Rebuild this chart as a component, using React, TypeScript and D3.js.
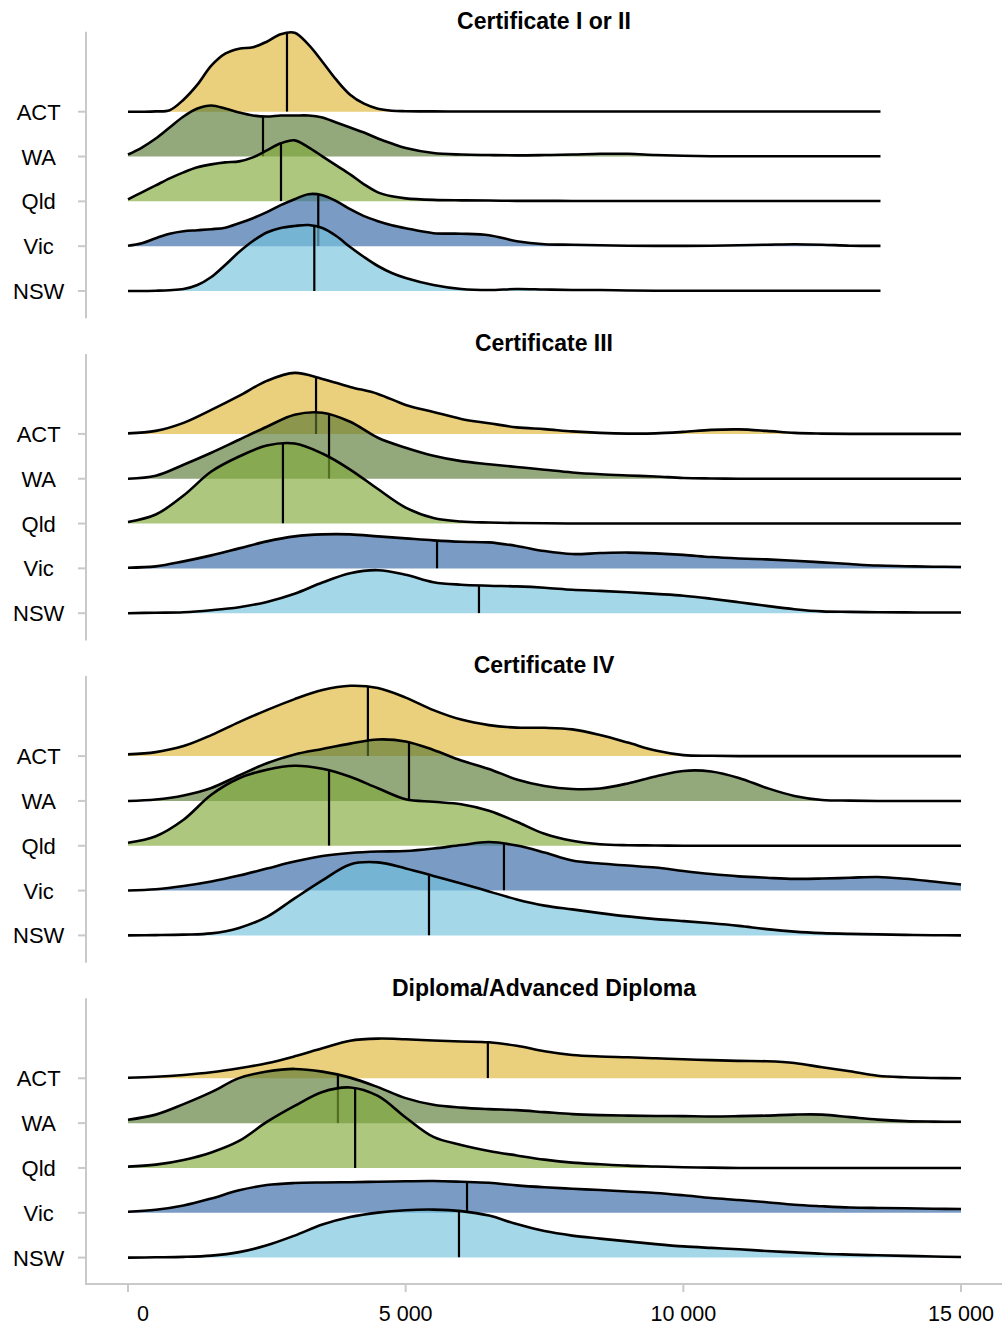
import React, { useEffect, useRef } from 'react';
import * as d3 from 'd3';

const WIDTH = 1002;
const HEIGHT = 1326;

const states = ['ACT', 'WA', 'Qld', 'Vic', 'NSW'];
const stateColors = ['#DFB536', '#597934', '#81A93A', '#3267A4', '#73C2DC'];
const panelTitles = ['Certificate I or II', 'Certificate III', 'Certificate IV', 'Diploma/Advanced Diploma'];
const xTickValues = [0, 5000, 10000, 15000];

// income sample points (x values) for each density
const gridCert12 = [0, 250, 500, 750, 1000, 1250, 1500, 1750, 2000, 2250, 2500, 2750, 3000, 3250, 3500, 3750, 4000, 4250, 4500, 4750, 5000, 5500, 6000, 6500, 7000, 7500, 8000, 8500, 9000, 9500, 10000, 10500, 11000, 11500, 12000, 12500, 13000, 13550];
const gridFull = [0, 500, 1000, 1500, 2000, 2500, 3000, 3500, 4000, 4500, 5000, 5500, 6000, 6500, 7000, 7500, 8000, 8500, 9000, 9500, 10000, 10500, 11000, 11500, 12000, 12500, 13000, 13500, 14000, 14500, 15000];

// Certificate I or II densities (relative heights)
const cert12ACT = [0, 0, 0.3, 1.5, 12, 27, 46, 58, 63, 64.5, 70, 77.5, 79, 67, 50, 32, 17, 8, 3, 1, 0.5, 0.3, 0.2, 0.2, 0.2, 0.2, 0.2, 0.2, 0.2, 0.2, 0.2, 0.2, 0.2, 0.2, 0.2, 0.2, 0.2, 0.2];
const cert12WA = [2, 9, 18, 29, 40, 48, 51, 48, 44, 41, 40, 41, 41, 41, 39, 34, 29, 24, 18, 13, 8.5, 3.5, 2, 1.5, 1.2, 1.5, 2, 2.7, 2.7, 1.5, 0.7, 0.3, 0.3, 0.3, 0.3, 0.3, 0.3, 0.3];
const cert12Qld = [2, 9, 16, 23, 29, 34, 37, 39, 40, 44, 51, 58, 61, 54, 45, 36, 27, 17, 9, 5, 3, 1.5, 1, 0.8, 0.5, 0.5, 0.4, 0.4, 0.4, 0.4, 0.4, 0.4, 0.4, 0.4, 0.4, 0.4, 0.4, 0.4];
const cert12Vic = [0.5, 3, 8, 12.5, 15, 16, 17, 18.5, 23, 28, 34, 41, 47, 52, 51, 45, 37, 30, 25, 21, 18, 13, 12.5, 11, 5, 2, 1.5, 1, 0.5, 0.3, 0.3, 0.5, 1, 1.5, 2, 1.5, 0.5, 0.3];
const cert12NSW = [0, 0, 0.3, 0.8, 2, 6, 14, 26, 39, 50, 58.5, 63, 65, 66, 63, 55, 44, 34, 25, 18, 13, 6, 2, 1, 2, 1.5, 1, 1, 0.5, 0.3, 0.2, 0.2, 0.2, 0.2, 0.2, 0.2, 0.2, 0.2];
const mediansCert12 = [2863, 2431, 2755, 3426, 3355];

// Certificate III
const cert3ACT = [0.5, 3, 11, 24, 38, 53, 61, 55, 47, 40, 29, 22, 15, 10.7, 6.5, 4.8, 2.5, 1, 0.3, 0.5, 2, 4, 4.5, 3, 1, 0.3, 0, 0, 0, 0, 0];
const cert3WA = [0, 3, 14, 26, 39, 52, 64, 66, 57, 41, 31, 23, 17.6, 14.5, 11.8, 9, 6.3, 4.5, 3.3, 2.3, 0.8, 0.3, 0, 0, 0, 0, 0, 0, 0, 0, 0];
const cert3Qld = [1.5, 9, 28, 52, 67, 78, 80, 70, 54, 34.5, 16, 5.5, 2, 1, 0.5, 0.3, 0, 0, 0, 0, 0, 0, 0, 0, 0, 0, 0, 0, 0, 0, 0];
const cert3Vic = [0.7, 2, 7, 13, 20, 27, 32, 34, 34, 32, 30, 28, 26.6, 26, 22.4, 17.3, 14.3, 15.3, 15.8, 15, 13.5, 11.3, 9.9, 9, 7.7, 6, 4.3, 2.8, 2.2, 1.7, 1.4];
const cert3NSW = [0, 0.5, 1, 3, 6, 11.3, 19.5, 30.7, 40, 43, 38.5, 31, 28.5, 27.5, 26.8, 25.5, 23.5, 22.3, 21, 19.3, 17.5, 14.5, 11, 7.3, 4, 1.8, 1.3, 1, 0.8, 0.7, 0.7];
const mediansCert3 = [3386, 3620, 2790, 5565, 6320];

// Certificate IV
const cert4ACT = [1.7, 4, 10, 21, 34, 46, 57, 66, 70.3, 68, 58.5, 46, 36.5, 31, 28.5, 28.3, 26.7, 21, 13.5, 5.5, 1, 0.3, 0, 0, 0, 0, 0, 0, 0, 0, 0];
const cert4WA = [0, 1.5, 5.5, 13, 25.5, 37.7, 46.5, 52, 57.3, 61.5, 59.5, 51, 40.5, 32, 21.5, 15, 12, 12.5, 17.5, 24.5, 30, 29.5, 23, 13, 5, 1, 0.3, 0, 0, 0, 0];
const cert4Qld = [3, 9.5, 26, 51, 67.5, 76, 80, 77, 69, 57.5, 46.5, 44, 41.5, 35, 24, 12, 5, 1.5, 0.5, 0.3, 0, 0, 0, 0, 0, 0, 0, 0, 0, 0, 0];
const cert4Vic = [0, 1.3, 4.5, 9, 15, 22, 29, 34.5, 37.5, 39, 39.5, 42, 45.5, 48.5, 45, 38, 30, 27, 25, 23, 19.5, 16.5, 14.2, 12.8, 11.7, 12, 12.8, 13.6, 11.8, 9, 6];
const cert4NSW = [0, 0.3, 0.8, 2, 7.5, 18.5, 37, 55, 71, 73, 67, 59.5, 52, 44, 36, 29.8, 26, 22.3, 19, 16.3, 14.3, 12.1, 9.5, 6.3, 3.8, 2.3, 1.5, 1, 0.5, 0.2, 0];
const mediansCert4 = [4320, 5060, 3620, 6770, 5420];

// Diploma/Advanced Diploma
const dipACT = [0.6, 1.5, 3.3, 6, 10, 15, 22, 30, 37.6, 39.7, 39, 37.8, 36.8, 36, 32.5, 27, 23.3, 21.8, 21, 20, 19, 18.2, 17.4, 17, 15.3, 11, 7, 2.6, 1, 0.3, 0];
const dipWA = [3.3, 8.5, 19, 31, 45, 51.6, 54.2, 51.5, 45.5, 36, 25, 18.3, 15.5, 14, 13, 11, 9, 8, 7.5, 7.2, 7, 6.7, 7, 7.5, 8.5, 8.5, 6, 3.5, 2, 1.5, 1.3];
const dipQld = [1.3, 3.3, 8, 15.5, 27, 46, 62, 76, 80.5, 72, 50.5, 31, 23, 17, 12.5, 8.3, 5.3, 3.7, 2.3, 1.5, 0.7, 0.3, 0, 0, 0, 0, 0, 0, 0, 0, 0];
const dipVic = [1, 3, 7.3, 14.3, 22.5, 27.7, 29.7, 30.3, 30.6, 31.1, 31.5, 31.7, 31, 30, 27.4, 25.5, 24, 22.7, 21.2, 19.8, 17.5, 14.8, 12.8, 10.6, 8, 6.5, 5.3, 4.8, 4.5, 4, 3.7];
const dipNSW = [0, 0.3, 0.7, 2, 5.5, 12.3, 22, 33, 40.5, 45, 47.4, 48, 46.5, 42, 33.5, 26.5, 22, 19, 16.2, 13.5, 11.2, 9.7, 8.4, 6.6, 5.2, 3.8, 3, 2.3, 1.7, 1.1, 0.6];
const mediansDip = [6480, 3780, 4090, 6105, 5960];

const panels = [
  { title: panelTitles[0], grid: gridCert12, series: [cert12ACT, cert12WA, cert12Qld, cert12Vic, cert12NSW], medians: mediansCert12 },
  { title: panelTitles[1], grid: gridFull, series: [cert3ACT, cert3WA, cert3Qld, cert3Vic, cert3NSW], medians: mediansCert3 },
  { title: panelTitles[2], grid: gridFull, series: [cert4ACT, cert4WA, cert4Qld, cert4Vic, cert4NSW], medians: mediansCert4 },
  { title: panelTitles[3], grid: gridFull, series: [dipACT, dipWA, dipQld, dipVic, dipNSW], medians: mediansDip },
];

const FONT = '"Liberation Sans", Arial, sans-serif';
const AXIS_COLOR = '#c9c9c9';

export default function App() {
  const ref = useRef<SVGSVGElement>(null);

  useEffect(() => {
    const svg = d3.select(ref.current);
    svg.selectAll('*').remove();

    const x = d3.scaleLinear().domain([0, 15000]).range([128, 961]);
    const hScale = d3.scaleLinear().domain([0, 80]).range([0, 80]);
    const panelOffset = d3.scaleLinear().domain([0, 1]).range([0, 322.2]);
    const fmt = d3.formatLocale({ decimal: '.', thousands: ' ', grouping: [3], currency: ['', ''] }).format(',');
    const curve = d3.curveCatmullRom.alpha(0.5);

    panels.forEach((panel, p) => {
      const off = panelOffset(p);
      const y = d3.scalePoint<string>().domain(states).range([111.7 + off, 291 + off]);
      const g = svg.append('g');

      // title
      g.append('text')
        .attr('x', 544).attr('y', 29 + off)
        .attr('text-anchor', 'middle')
        .attr('font-family', FONT).attr('font-weight', 'bold').attr('font-size', 23)
        .attr('fill', '#000')
        .text(panel.title);

      // left axis
      g.append('line')
        .attr('x1', 86).attr('x2', 86)
        .attr('y1', (y('ACT') as number) - 80).attr('y2', (y('NSW') as number) + 27.3)
        .attr('stroke', AXIS_COLOR).attr('stroke-width', 2);

      states.forEach((s) => {
        const yy = y(s) as number;
        g.append('line').attr('x1', 78).attr('x2', 86).attr('y1', yy).attr('y2', yy)
          .attr('stroke', AXIS_COLOR).attr('stroke-width', 2);
        g.append('text').attr('x', 38.7).attr('y', yy + 8)
          .attr('text-anchor', 'middle')
          .attr('font-family', FONT).attr('font-size', 22).attr('fill', '#000')
          .text(s);
      });

      // ridges
      panel.series.forEach((vals, i) => {
        const base = y(states[i]) as number;
        const pts = panel.grid.map((gx, k) => [gx, vals[k]] as [number, number]);
        const area = d3.area<[number, number]>()
          .x((d) => x(d[0]))
          .y0(base)
          .y1((d) => Math.min(base, base - hScale(d[1])))
          .curve(curve);
        const line = d3.line<[number, number]>()
          .x((d) => x(d[0]))
          .y((d) => base - hScale(d[1]))
          .curve(curve);
        const clipId = `ridge-clip-${p}-${i}`;
        g.append('clipPath').attr('id', clipId)
          .append('path').attr('d', area(pts) as string);

        const sg = g.append('g');
        sg.append('path').attr('d', area(pts) as string)
          .attr('fill', stateColors[i]).attr('fill-opacity', 0.65).attr('stroke', 'none');
        sg.append('line')
          .attr('x1', x(panel.medians[i])).attr('x2', x(panel.medians[i]))
          .attr('y1', base).attr('y2', base - 100)
          .attr('stroke', '#000').attr('stroke-width', 2.2)
          .attr('clip-path', `url(#${clipId})`);
        sg.append('path').attr('d', line(pts) as string)
          .attr('fill', 'none').attr('stroke', '#000').attr('stroke-width', 2.6)
          .attr('stroke-linejoin', 'round');
      });
    });

    // bottom axis
    const axisY = 1284;
    const ax = svg.append('g');
    ax.append('line').attr('x1', 86).attr('x2', 1002).attr('y1', axisY).attr('y2', axisY)
      .attr('stroke', AXIS_COLOR).attr('stroke-width', 2);
    xTickValues.forEach((t) => {
      ax.append('line').attr('x1', x(t)).attr('x2', x(t)).attr('y1', axisY).attr('y2', axisY + 8)
        .attr('stroke', AXIS_COLOR).attr('stroke-width', 2);
      ax.append('text').attr('x', x(t) + (t === 0 ? 15 : 0)).attr('y', 1321)
        .attr('text-anchor', 'middle')
        .attr('font-family', FONT).attr('font-size', 21.5).attr('fill', '#000')
        .text(fmt(t));
    });
  }, []);

  return (
    <svg
      ref={ref}
      width={WIDTH}
      height={HEIGHT}
      style={{ position: 'absolute', left: 0, top: 0, background: '#fff' }}
    />
  );
}
